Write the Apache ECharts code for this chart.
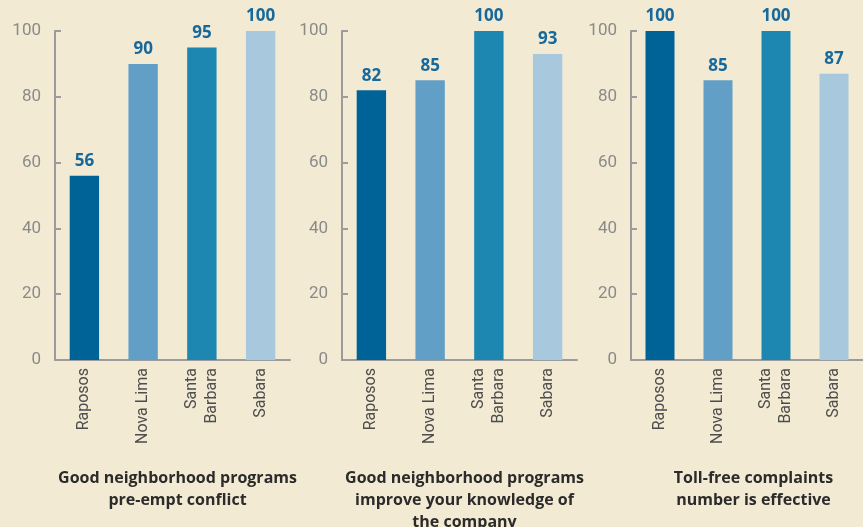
<!DOCTYPE html>
<html>
<head>
<meta charset="utf-8">
<script src="https://cdn.jsdelivr.net/npm/echarts@6/dist/echarts.min.js"></script>
<style>
  html, body { margin: 0; padding: 0; background: #f2ead3; }
  #chart { width: 863px; height: 527px; }
</style>
</head>
<body>
<div id="chart"></div>
<script>
// categories and values for the three panels
const towns = ['Raposos', 'Nova Lima', 'Santa\nBarbara', 'Sabara']
const conflictVals = [56, 90, 95, 100]
const knowledgeVals = [82, 85, 100, 93]
const tollFreeVals = [100, 85, 100, 87]
const panelTitles = [
  'Good neighborhood programs\npre-empt conflict',
  'Good neighborhood programs\nimprove your knowledge of\nthe company',
  'Toll-free complaints\nnumber is effective'
]
const yTicks = [0, 20, 40, 60, 80, 100]

const barColors = ['#006397', '#619fc6', '#1d86b1', '#a8c8de']
const lefts = [55, 342, 631]
const panelW = 235

const chart = echarts.init(document.querySelector('#chart'))

const grids = lefts.map(l => ({ left: l, width: panelW, top: 31, height: 329 }))

const xAxes = lefts.map((l, i) => ({
  type: 'category',
  gridIndex: i,
  data: towns,
  axisLine: { lineStyle: { color: '#9b9b9b', width: 2 } },
  axisTick: { inside: true, length: 7, lineStyle: { color: '#9b9b9b', width: 2 } },
  axisLabel: {
    rotate: 90,
    color: '#4d4d4d',
    fontSize: 16,
    fontFamily: 'Liberation Sans Narrow, Roboto, sans-serif',
    margin: 8,
    lineHeight: 20
  }
}))

const yAxes = lefts.map((l, i) => ({
  type: 'value',
  gridIndex: i,
  min: yTicks[0],
  max: yTicks[yTicks.length - 1],
  interval: 20,
  splitLine: { show: false },
  axisLine: { show: true, lineStyle: { color: '#9b9b9b', width: 2 } },
  axisTick: { show: true, inside: true, length: 6, lineStyle: { color: '#9b9b9b', width: 2 } },
  axisLabel: {
    color: '#8a8a8a',
    fontSize: 17,
    fontFamily: 'Liberation Sans Narrow, Roboto, sans-serif',
    margin: 14
  }
}))

const allVals = [conflictVals, knowledgeVals, tollFreeVals]
const series = allVals.map((vals, i) => ({
  type: 'bar',
  xAxisIndex: i,
  yAxisIndex: i,
  barWidth: '50%',
  data: vals.map((v, j) => ({ value: v, itemStyle: { color: barColors[j] } })),
  label: {
    show: true,
    position: 'top',
    distance: 6,
    color: '#17699c',
    fontSize: 17,
    fontWeight: 'bold',
    fontFamily: 'Open Sans, sans-serif'
  }
}))

const titles = panelTitles.map((t, i) => ({
  text: t,
  left: lefts[i] + panelW / 2,
  top: 462,
  textAlign: 'center',
  textStyle: {
    fontSize: 16,
    fontWeight: 'bold',
    color: '#2b2b2b',
    fontFamily: 'Open Sans, sans-serif',
    lineHeight: 22
  }
}))

chart.setOption({
  backgroundColor: '#f2ead3',
  animation: false,
  title: titles,
  grid: grids,
  xAxis: xAxes,
  yAxis: yAxes,
  series: series
})
</script>
</body>
</html>
